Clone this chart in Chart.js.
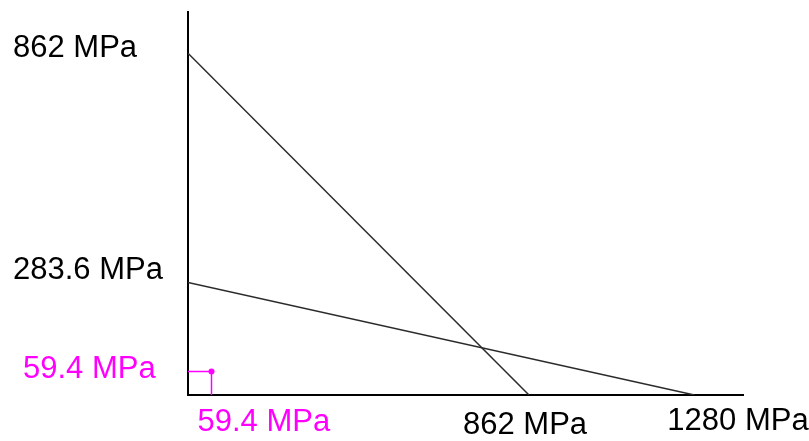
<!DOCTYPE html>
<html>
<head>
<meta charset="utf-8">
<script src="https://cdn.jsdelivr.net/npm/chart.js@4"></script>
<style>
  html, body { margin: 0; padding: 0; background: #fff; }
  canvas { display: block; }
</style>
</head>
<body>
<canvas id="c" width="809" height="441"></canvas>
<script>
// Stress values (MPa)
const lineA = [862, 862];       // y-intercept, x-intercept
const lineB = [283.6, 1280];    // y-intercept, x-intercept
const cornerVal = 59.4;

const yTickValues = [862, 283.6, 59.4];
const yTickLabels = ['862 MPa', '283.6 MPa', '59.4 MPa'];
const xTickValues = [59.4, 862, 1280];
const xTickLabels = ['59.4 MPa', '862 MPa', '1280 MPa'];

const BLACK = '#000';
const MAGENTA = '#ff00ff';
const FONT = '31px "Liberation Sans", Arial, sans-serif';

// label placement (left edge / offsets from the tick pixel)
const yLabelStyle = [
  { left: 13, dy: -5, color: BLACK },
  { left: 13, dy: -12, color: BLACK },
  { left: 23, dy: -2, color: MAGENTA },
];
const xLabelStyle = [
  { dx: -14, dy: 27, color: MAGENTA },
  { dx: -66, dy: 30, color: BLACK },
  { dx: -27, dy: 26, color: BLACK },
];

const labelPlugin = {
  id: 'mpaLabels',
  afterDraw(chart) {
    const { ctx, scales: { x, y }, chartArea } = chart;
    ctx.save();
    ctx.font = FONT;
    ctx.textAlign = 'left';
    ctx.textBaseline = 'middle';
    yTickValues.forEach((v, i) => {
      const s = yLabelStyle[i];
      ctx.fillStyle = s.color;
      ctx.fillText(yTickLabels[i], s.left, y.getPixelForValue(v) + s.dy);
    });
    xTickValues.forEach((v, i) => {
      const s = xLabelStyle[i];
      ctx.fillStyle = s.color;
      ctx.fillText(xTickLabels[i], x.getPixelForValue(v) + s.dx, chartArea.bottom + s.dy);
    });
    ctx.restore();
  },
};

new Chart(document.getElementById('c'), {
  type: 'scatter',
  data: {
    datasets: [
      {
        data: [{ x: 0, y: lineA[0] }, { x: lineA[1], y: 0 }],
        showLine: true,
        borderColor: '#2b2b2b',
        borderWidth: 1.5,
        pointRadius: 0,
      },
      {
        data: [{ x: 0, y: lineB[0] }, { x: lineB[1], y: 0 }],
        showLine: true,
        borderColor: '#2b2b2b',
        borderWidth: 1.5,
        pointRadius: 0,
      },
      {
        data: [{ x: 0, y: cornerVal }, { x: cornerVal, y: cornerVal }, { x: cornerVal, y: 0 }],
        showLine: true,
        borderColor: MAGENTA,
        borderWidth: 1.5,
        pointRadius: [0, 3, 0],
        pointBackgroundColor: MAGENTA,
        pointBorderWidth: 0,
      },
    ],
  },
  options: {
    responsive: false,
    animation: false,
    layout: { padding: { left: 180, right: 66, top: 12, bottom: 38 } },
    plugins: { legend: { display: false }, tooltip: { enabled: false } },
    scales: {
      x: {
        type: 'linear',
        min: 0,
        max: 1403,
        grid: { display: false },
        ticks: { display: false },
        border: { display: true, color: BLACK, width: 2 },
      },
      y: {
        type: 'linear',
        min: 0,
        max: 966,
        grid: { display: false },
        ticks: { display: false },
        border: { display: true, color: BLACK, width: 2 },
      },
    },
  },
  plugins: [labelPlugin],
});
</script>
</body>
</html>
